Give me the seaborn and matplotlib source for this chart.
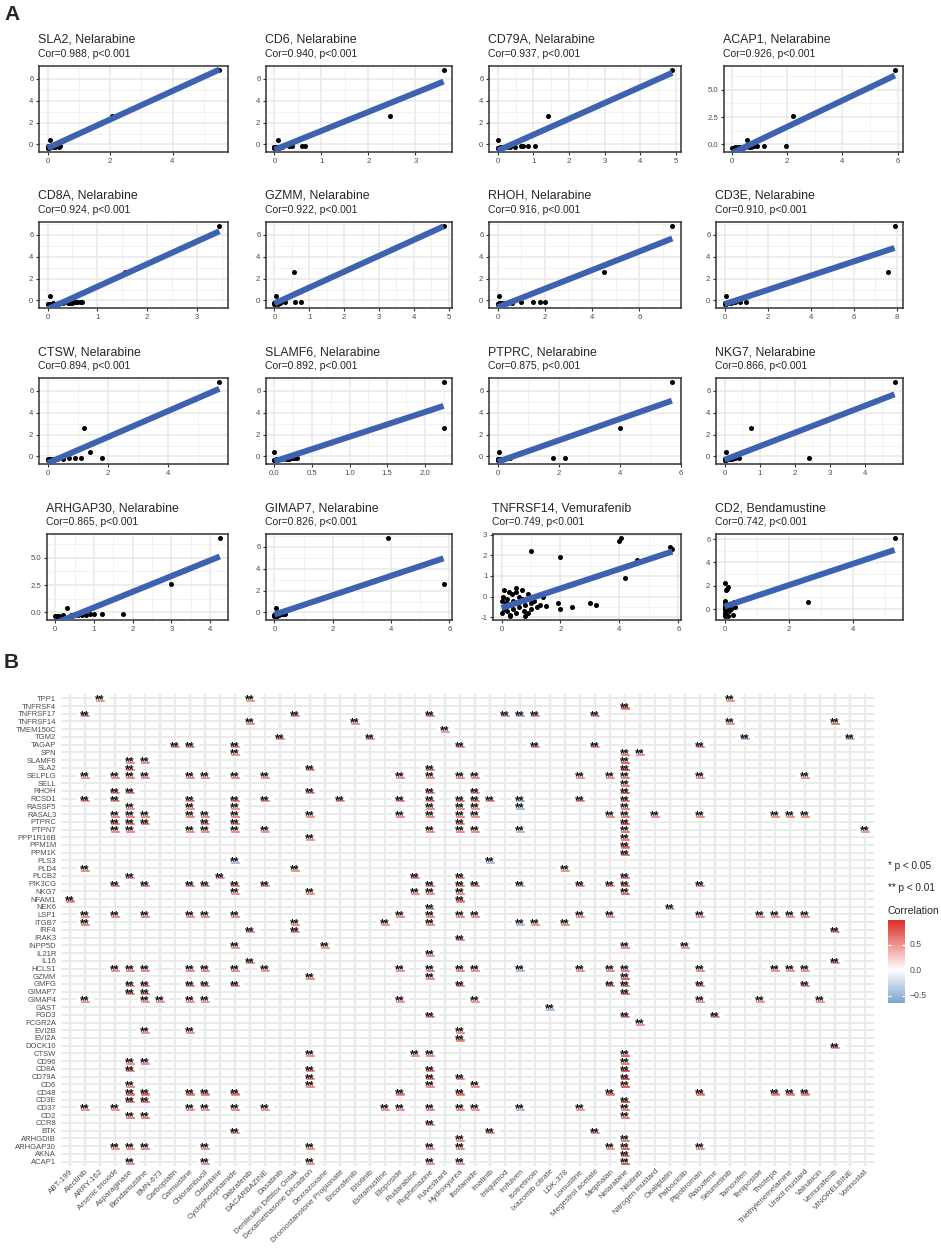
import numpy as np
import pandas as pd
import matplotlib
matplotlib.use("Agg")
import matplotlib.pyplot as plt
from matplotlib.colors import LinearSegmentedColormap, Normalize
from matplotlib.ticker import AutoMinorLocator
import seaborn as sns

# ======================= DATA: panel A =======================
sc_gene = ["SLA2", "CD6", "CD79A", "ACAP1", "CD8A", "GZMM", "RHOH", "CD3E",
           "CTSW", "SLAMF6", "PTPRC", "NKG7", "ARHGAP30", "GIMAP7", "TNFRSF14", "CD2"]
sc_drug = ["Nelarabine"] * 14 + ["Vemurafenib", "Bendamustine"]
sc_cor = [0.988, 0.940, 0.937, 0.926, 0.924, 0.922, 0.916, 0.910,
          0.894, 0.892, 0.875, 0.866, 0.865, 0.826, 0.749, 0.742]
sc_p = ["p<0.001"] * 16

# Nelarabine response shared by the 14 Nelarabine panels
nel_y = [6.8, 2.6, 0.4, -0.15, -0.15, -0.18, -0.18, -0.2, -0.2, -0.2, -0.22, -0.25, -0.25, -0.28, -0.3, -0.33]
x_SLA2 = [5.5, 2.05, 0.07, 0.4, 0.3, 0.0, 0.05, 0.1, 0.2, 0.35, 0.0, 0.25, 0.0, 0.05, 0.0, 0.02]
x_CD6 = [3.6, 2.45, 0.07, 0.65, 0.58, 0.38, 0.3, 0.1, 0.05, 0.0, 0.0, 0.15, 0.05, 0.0, 0.1, 0.02]
x_CD79A = [4.9, 1.4, 0.0, 1.05, 0.86, 0.72, 0.65, 0.49, 0.35, 0.25, 0.15, 0.1, 0.05, 0.0, 0.0, 0.02]
x_ACAP1 = [5.9, 2.2, 0.53, 1.95, 1.14, 0.9, 0.8, 0.7, 0.6, 0.45, 0.3, 0.2, 0.1, 0.05, 0.4, 0.0]
x_CD8A = [3.45, 1.55, 0.05, 0.7, 0.65, 0.6, 0.55, 0.5, 0.45, 0.4, 0.3, 0.2, 0.1, 0.0, 0.05, 0.0]
x_GZMM = [4.85, 0.55, 0.05, 0.75, 0.6, 0.3, 0.2, 0.1, 0.05, 0.0, 0.0, 0.15, 0.05, 0.0, 0.1, 0.02]
x_RHOH = [7.4, 4.5, 0.05, 2.0, 1.8, 1.5, 1.0, 0.6, 0.4, 0.3, 0.2, 0.1, 0.05, 0.0, 0.0, 0.02]
x_CD3E = [7.9, 7.6, 0.05, 1.0, 0.7, 0.5, 0.4, 0.3, 0.2, 0.15, 0.1, 0.05, 0.0, 0.0, 0.05, 0.02]
x_CTSW = [5.7, 1.2, 1.4, 1.8, 1.1, 0.9, 0.7, 0.5, 0.3, 0.2, 0.1, 0.05, 0.0, 0.0, 0.05, 0.02]
x_SLAMF6 = [2.25, 2.25, 0.0, 0.3, 0.28, 0.25, 0.22, 0.2, 0.18, 0.15, 0.1, 0.05, 0.02, 0.0, 0.0, 0.01]
x_PTPRC = [5.7, 4.0, 0.05, 2.2, 1.8, 0.4, 0.3, 0.2, 0.15, 0.1, 0.05, 0.0, 0.0, 0.05, 0.0, 0.02]
x_NKG7 = [4.85, 0.75, 0.05, 2.4, 0.4, 0.3, 0.25, 0.2, 0.15, 0.1, 0.05, 0.0, 0.0, 0.05, 0.0, 0.02]
x_ARHGAP30 = [4.25, 3.0, 0.3, 1.75, 1.2, 1.0, 0.9, 0.8, 0.7, 0.6, 0.5, 0.4, 0.2, 0.1, 0.0, 0.05]
x_GIMAP7 = [3.9, 5.8, 0.05, 0.35, 0.3, 0.25, 0.2, 0.15, 0.1, 0.05, 0.0, 0.0, 0.05, 0.0, 0.02, 0.1]

x_TNFRSF14 = [0.0, 0.05, 0.1, 0.1, 0.15, 0.2, 0.2, 0.25, 0.3, 0.3, 0.35, 0.4, 0.4, 0.5, 0.5, 0.55,
              0.6, 0.6, 0.7, 0.75, 0.8, 0.8, 0.9, 1.0, 1.0, 1.1, 1.2, 1.3, 1.4, 1.5, 1.9, 2.0, 2.4,
              3.0, 3.2, 1.0, 2.0, 4.0, 4.05, 4.2, 4.6, 5.7, 5.8, 0.0, 0.1, 0.3, 0.5, 0.7, 0.9]
y_Vemurafenib = [-0.2, 0.0, -0.5, 0.3, -0.3, -0.1, -0.7, 0.2, -0.4, -0.9, 0.1, -0.6, -0.2, 0.4, -0.8, -0.3,
                 0.0, -0.5, -0.1, -0.7, -0.4, -0.95, 0.1, -0.3, -0.6, -0.2, -0.5, -0.4, 0.0, -0.45, -0.3, -0.6, -0.5,
                 -0.3, -0.4, 2.2, 1.9, 2.7, 2.85, 0.9, 1.8, 2.4, 2.3, -0.8, -0.6, -0.95, 0.2, 0.3, -0.8]
x_CD2 = [5.3, 2.6, 0.0, 0.1, 0.05, 0.08, 0.3, 0.32, 0.25, 0.0, 0.0, 0.0, 0.0, 0.0, 0.0, 0.05,
         0.1, 0.15, 0.2, 0.02, 0.05, 0.0, 0.1]
y_Bendamustine = [6.1, 0.6, 2.2, 1.9, 1.6, 1.75, 0.6, 0.2, -0.5, 0.7, 0.5, 0.3, 0.1, -0.1, -0.3, -0.5,
                  -0.6, -0.2, 0.0, -0.6, 0.4, -0.45, 0.2]

sc_x = [x_SLA2, x_CD6, x_CD79A, x_ACAP1, x_CD8A, x_GZMM, x_RHOH, x_CD3E, x_CTSW, x_SLAMF6,
        x_PTPRC, x_NKG7, x_ARHGAP30, x_GIMAP7, x_TNFRSF14, x_CD2]
sc_y = [nel_y] * 14 + [y_Vemurafenib, y_Bendamustine]

sc_xticks = [[0, 2, 4], [0, 1, 2, 3], [0, 1, 2, 3, 4, 5], [0, 2, 4, 6],
             [0, 1, 2, 3], [0, 1, 2, 3, 4, 5], [0, 2, 4, 6], [0, 2, 4, 6, 8],
             [0, 2, 4], [0.0, 0.5, 1.0, 1.5, 2.0], [0, 2, 4, 6], [0, 1, 2, 3, 4],
             [0, 1, 2, 3, 4], [0, 2, 4, 6], [0, 2, 4, 6], [0, 2, 4]]
sc_yticks = [[0, 2, 4, 6]] * 3 + [[0.0, 2.5, 5.0]] + [[0, 2, 4, 6]] * 8 + \
            [[0.0, 2.5, 5.0], [0, 2, 4, 6], [-1, 0, 1, 2, 3], [0, 2, 4, 6]]
sc_xfmt = ["{:.0f}"] * 9 + ["{:.1f}"] + ["{:.0f}"] * 6
sc_yfmt = ["{:.0f}"] * 3 + ["{:.1f}"] + ["{:.0f}"] * 8 + ["{:.1f}"] + ["{:.0f}"] * 3

# ======================= DATA: panel B =======================
drugs = ["ABT-199", "Alectinib", "ARRY-162", "Arsenic trioxide", "Asparaginase", "Bendamustine",
         "BMN-673", "Carboplatin", "Carmustine", "Chlorambucil", "Cladribine", "Cyclophosphamide",
         "Dabrafenib", "DACARBAZINE", "Dasatinib", "Denileukin Diftitox Ontak",
         "Dexamethasone Decadron", "Dexrazoxane", "Dromostanolone Propionate", "Encorafenib",
         "Erlotinib", "Estramustine", "Etoposide", "Fludarabine", "Fluphenazine", "Fulvestrant",
         "Hydroxyurea", "Ifosfamide", "Imatinib", "Imiquimod", "Irofulven", "Isotretinoin",
         "Ixazomib citrate", "LDK-378", "Lomustine", "Megestrol acetate", "Melphalan", "Nelarabine",
         "Nilotinib", "Nitrogen mustard", "Oxaliplatin", "Palbociclib", "Pipobroman", "Raloxifene",
         "Selumetinib", "Tamoxifen", "Teniposide", "Thiotepa", "Triethylenemelamine",
         "Uracil mustard", "Valrubicin", "Vemurafenib", "VINORELBINE", "Vorinostat"]

genes = ["TPP1", "TNFRSF4", "TNFRSF17", "TNFRSF14", "TMEM150C", "TGM2", "TAGAP", "SPN", "SLAMF6",
         "SLA2", "SELPLG", "SELL", "RHOH", "RCSD1", "RASSF5", "RASAL3", "PTPRC", "PTPN7", "PPP1R16B",
         "PPM1M", "PPM1K", "PLS3", "PLD4", "PLCB2", "PIK3CG", "NKG7", "NFAM1", "NEK6", "LSP1", "ITGB7",
         "IRF4", "IRAK3", "INPP5D", "IL21R", "IL16", "HCLS1", "GZMM", "GMFG", "GIMAP7", "GIMAP4",
         "GAST", "FGD3", "FCGR2A", "EVI2B", "EVI2A", "DOCK10", "CTSW", "CD96", "CD8A", "CD79A", "CD6",
         "CD48", "CD3E", "CD37", "CD2", "CCR8", "BTK", "ARHGDIB", "ARHGAP30", "AKNA", "ACAP1"]

# significant cells (all p < 0.01 -> "**"): drug, genes hit, correlation of each hit
hit_drug = []
hit_genes = []
hit_cor = []
def _add(d, g, c):
    hit_drug.append(d); hit_genes.append(g.split()); hit_cor.append(c)

_add("ABT-199", "NFAM1", [0.58])
_add("Alectinib", "TNFRSF17 SELPLG RCSD1 PLD4 LSP1 ITGB7 GIMAP4 CD37", [0.62, 0.64, 0.63, 0.66, 0.62, 0.70, 0.61, 0.63])
_add("ARRY-162", "TPP1", [0.60])
_add("Arsenic trioxide", "SELPLG RHOH RCSD1 RASAL3 PTPRC PTPN7 PIK3CG LSP1 HCLS1 CD37 ARHGAP30",
     [0.66, 0.63, 0.62, 0.67, 0.65, 0.66, 0.64, 0.65, 0.66, 0.62, 0.64])
_add("Asparaginase", "SLAMF6 SLA2 SELPLG RHOH RASSF5 RASAL3 PTPRC PTPN7 PLCB2 HCLS1 GMFG GIMAP7 CD96 CD8A CD6 CD48 CD3E CD2 ARHGAP30 ACAP1",
     [0.68, 0.66, 0.67, 0.65, 0.64, 0.69, 0.68, 0.67, 0.62, 0.68, 0.66, 0.65, 0.64, 0.66, 0.65, 0.69, 0.68, 0.70, 0.66, 0.65])
_add("Bendamustine", "SLAMF6 SELPLG RASAL3 PTPRC PIK3CG LSP1 HCLS1 GMFG GIMAP7 GIMAP4 EVI2B CD96 CD48 CD3E CD2 ARHGAP30",
     [0.66, 0.68, 0.70, 0.69, 0.66, 0.67, 0.70, 0.68, 0.67, 0.64, 0.63, 0.65, 0.70, 0.71, 0.742, 0.67])
_add("BMN-673", "GIMAP4", [0.62])
_add("Carboplatin", "TAGAP", [0.60])
_add("Carmustine", "TAGAP SELPLG RCSD1 RASSF5 RASAL3 PTPN7 PIK3CG LSP1 HCLS1 GMFG GIMAP4 EVI2B CD48 CD37",
     [0.61, 0.67, 0.64, 0.63, 0.68, 0.66, 0.66, 0.67, 0.68, 0.66, 0.63, 0.62, 0.67, 0.65])
_add("Chlorambucil", "SELPLG RASAL3 PTPRC PTPN7 PIK3CG LSP1 HCLS1 GMFG GIMAP4 CD48 CD37 ARHGAP30 ACAP1",
     [0.66, 0.68, 0.67, 0.66, 0.65, 0.66, 0.68, 0.66, 0.63, 0.67, 0.64, 0.65, 0.64])
_add("Cladribine", "PLCB2", [0.61])
_add("Cyclophosphamide", "TAGAP SPN SELPLG RCSD1 RASSF5 RASAL3 PTPRC PTPN7 PLS3 PIK3CG NKG7 LSP1 INPP5D HCLS1 GMFG CD48 CD37 BTK",
     [0.62, 0.63, 0.67, 0.65, 0.64, 0.68, 0.67, 0.66, -0.55, 0.66, 0.64, 0.66, 0.62, 0.68, 0.66, 0.67, 0.65, 0.61])
_add("Dabrafenib", "TPP1 TNFRSF14 IRF4 IL16", [0.60, 0.64, 0.61, 0.62])
_add("DACARBAZINE", "SELPLG RCSD1 PTPN7 PIK3CG HCLS1 CD37", [0.64, 0.62, 0.63, 0.63, 0.64, 0.62])
_add("Dasatinib", "TGM2", [0.60])
_add("Denileukin Diftitox Ontak", "TNFRSF17 PLD4 ITGB7 IRF4", [0.62, 0.61, 0.64, 0.63])
_add("Dexamethasone Decadron", "SLA2 RHOH RASAL3 PPP1R16B NKG7 GZMM CTSW CD8A CD79A CD6 ARHGAP30 ACAP1",
     [0.64, 0.63, 0.62, 0.62, 0.64, 0.65, 0.64, 0.66, 0.66, 0.65, 0.63, 0.64])
_add("Dexrazoxane", "INPP5D", [0.60])
_add("Dromostanolone Propionate", "RCSD1", [0.60])
_add("Encorafenib", "TNFRSF14", [0.61])
_add("Erlotinib", "TGM2", [0.61])
_add("Estramustine", "ITGB7 CD37", [0.61, 0.62])
_add("Etoposide", "SELPLG RCSD1 RASAL3 LSP1 HCLS1 GIMAP4 CD48 CD37", [0.63, 0.62, 0.64, 0.63, 0.64, 0.61, 0.63, 0.62])
_add("Fludarabine", "PLCB2 NKG7 CTSW", [0.61, 0.62, 0.62])
_add("Fluphenazine", "TNFRSF17 SLA2 SELPLG RHOH RCSD1 RASSF5 RASAL3 PTPN7 PIK3CG NKG7 NEK6 LSP1 ITGB7 IL21R HCLS1 GZMM FGD3 CTSW CD8A CD79A CD6 CD37 CCR8 ARHGAP30 ACAP1",
     [0.63, 0.66, 0.68, 0.66, 0.67, 0.66, 0.69, 0.67, 0.67, 0.66, -0.55, 0.67, 0.64, 0.62, 0.69, 0.66, 0.63, 0.66, 0.67, 0.67, 0.66, 0.70, 0.62, 0.66, 0.66])
_add("Fulvestrant", "TMEM150C", [0.60])
_add("Hydroxyurea", "TAGAP SELPLG RCSD1 RASSF5 RASAL3 PTPRC PTPN7 PLCB2 PIK3CG NKG7 NFAM1 LSP1 IRAK3 HCLS1 GMFG EVI2B EVI2A CD79A CD48 CD37 ARHGDIB ARHGAP30 ACAP1",
     [0.62, 0.67, 0.66, 0.66, 0.68, 0.67, 0.67, 0.65, 0.66, 0.65, 0.61, 0.66, 0.62, 0.68, 0.65, 0.64, 0.63, 0.64, 0.66, 0.66, 0.63, 0.65, 0.64])
_add("Ifosfamide", "SELPLG RHOH RCSD1 RASSF5 RASAL3 PTPN7 PIK3CG LSP1 HCLS1 GIMAP4 CD6 CD37",
     [0.66, 0.64, 0.65, 0.64, 0.67, 0.65, 0.65, 0.65, 0.66, 0.62, 0.63, 0.64])
_add("Imatinib", "RCSD1 PLS3 BTK", [0.61, -0.52, 0.62])
_add("Imiquimod", "TNFRSF17", [0.60])
_add("Irofulven", "TNFRSF17 RCSD1 RASSF5 PTPN7 PIK3CG ITGB7 HCLS1 CD37",
     [-0.64, -0.56, -0.55, -0.56, -0.55, -0.54, -0.57, -0.55])
_add("Isotretinoin", "TNFRSF17 TAGAP ITGB7", [0.62, 0.61, 0.62])
_add("Ixazomib citrate", "GAST", [-0.56])
_add("LDK-378", "PLD4 ITGB7", [0.61, 0.62])
_add("Lomustine", "SELPLG RCSD1 PIK3CG LSP1 HCLS1 CD37", [0.63, 0.62, 0.63, 0.63, 0.64, 0.62])
_add("Megestrol acetate", "TNFRSF17 TAGAP BTK", [0.61, 0.60, 0.61])
_add("Melphalan", "SELPLG RASAL3 PIK3CG LSP1 HCLS1 GMFG CD48 ARHGAP30", [0.64, 0.66, 0.64, 0.64, 0.66, 0.64, 0.65, 0.63])
_add("Nelarabine", "TNFRSF4 SPN SLAMF6 SLA2 SELPLG SELL RHOH RCSD1 RASSF5 RASAL3 PTPRC PTPN7 PPP1R16B PPM1M PPM1K PLCB2 PIK3CG NKG7 INPP5D HCLS1 GZMM GMFG GIMAP7 FGD3 CTSW CD96 CD8A CD79A CD6 CD3E CD37 CD2 ARHGDIB ARHGAP30 AKNA ACAP1",
     [0.70, 0.73, 0.892, 0.988, 0.74, 0.73, 0.916, 0.73, 0.72, 0.74, 0.875, 0.73, 0.72, 0.71, 0.72, 0.71, 0.73, 0.866,
      0.70, 0.74, 0.922, 0.73, 0.826, 0.70, 0.894, 0.74, 0.924, 0.937, 0.940, 0.910, 0.72, 0.74, 0.71, 0.865, 0.73, 0.926])
_add("Nilotinib", "SPN FCGR2A", [0.62, 0.61])
_add("Nitrogen mustard", "RASAL3", [0.61])
_add("Oxaliplatin", "NEK6", [-0.54])
_add("Palbociclib", "INPP5D", [0.61])
_add("Pipobroman", "TAGAP SELPLG RASAL3 PIK3CG LSP1 HCLS1 GMFG GIMAP4 CD48 ARHGAP30",
     [0.61, 0.64, 0.65, 0.64, 0.64, 0.65, 0.63, 0.62, 0.64, 0.63])
_add("Raloxifene", "FGD3", [0.61])
_add("Selumetinib", "TPP1 TNFRSF14", [0.61, 0.62])
_add("Tamoxifen", "TGM2", [-0.53])
_add("Teniposide", "LSP1 GIMAP4", [0.62, 0.61])
_add("Thiotepa", "RASAL3 LSP1 HCLS1 CD48", [0.63, 0.63, 0.64, 0.63])
_add("Triethylenemelamine", "RASAL3 LSP1 HCLS1 CD48", [0.63, 0.63, 0.64, 0.63])
_add("Uracil mustard", "SELPLG RASAL3 LSP1 HCLS1 GMFG CD48", [0.62, 0.64, 0.63, 0.64, 0.62, 0.63])
_add("Valrubicin", "GIMAP4", [0.61])
_add("Vemurafenib", "TNFRSF14 IRF4 IL16 DOCK10", [0.749, 0.62, 0.62, 0.61])
_add("VINORELBINE", "TGM2", [-0.53])
_add("Vorinostat", "PTPN7", [0.61])

# ======================= BUILD =======================
rows = []
for d, gl, cl in zip(hit_drug, hit_genes, hit_cor):
    assert len(gl) == len(cl), d
    for g, c in zip(gl, cl):
        assert g in genes, g
        rows.append((d, g, c))
cells = pd.DataFrame(rows, columns=["drug", "gene", "cor"])
cells["xi"] = cells["drug"].map({d: i for i, d in enumerate(drugs)})
cells["yi"] = cells["gene"].map({g: i for i, g in enumerate(genes)})

W, H = 941, 1253
sns.set_theme(style="white")
plt.rcParams['font.family'] = ['Liberation Sans', 'DejaVu Sans']
fig = plt.figure(figsize=(W / 100, H / 100), dpi=100)
fig.patch.set_facecolor("white")


def px_axes(l, t, r, b):
    return fig.add_axes([l / W, 1 - b / H, (r - l) / W, (b - t) / H])


def ftext(x, y, s, **kw):
    return fig.text(x / W, 1 - y / H, s, **kw)


ftext(4, 14, "A", fontsize=15, fontweight="bold", va="center", ha="left")

# ---------------- panel A ----------------
col_right = [228, 452, 681, 903]
col_left = [39, 266, 489, 716]
row_top = 66
row_step = 156
ax_h = 86
line_col = "#3D62B0"
for i in range(16):
    r, c = divmod(i, 4)
    extra = 0
    if sc_yfmt[i] == "{:.1f}":
        extra = 8
    elif min(sc_yticks[i]) < 0:
        extra = 4
    l = col_left[c] + extra
    rgt = col_right[c]
    t = row_top + r * row_step
    b = t + ax_h
    ax = px_axes(l, t, rgt, b)
    xs = np.array(sc_x[i], dtype=float)
    ys = np.array(sc_y[i], dtype=float)
    sns.regplot(x=xs, y=ys, ax=ax, ci=None, truncate=True,
                scatter_kws=dict(s=13, color="black", linewidths=0, zorder=3, alpha=1),
                line_kws=dict(color=line_col, lw=4.3, zorder=4, solid_capstyle="butt"))
    xr = xs.max() - xs.min()
    yr = ys.max() - ys.min()
    ax.set_xlim(xs.min() - 0.05 * xr, xs.max() + 0.05 * xr)
    ax.set_ylim(ys.min() - 0.05 * yr, ys.max() + 0.05 * yr)
    ax.set_xticks(sc_xticks[i])
    ax.set_xticklabels([sc_xfmt[i].format(v) for v in sc_xticks[i]])
    ax.set_yticks(sc_yticks[i])
    ax.set_yticklabels([sc_yfmt[i].format(v) for v in sc_yticks[i]])
    ax.xaxis.set_minor_locator(AutoMinorLocator(2))
    ax.yaxis.set_minor_locator(AutoMinorLocator(2))
    ax.grid(True, which="major", color="#E8E8E8", lw=1.1, zorder=0)
    ax.grid(True, which="minor", color="#F0F0F0", lw=0.6, zorder=0)
    ax.set_axisbelow(True)
    ax.set_xlabel("")
    ax.set_ylabel("")
    ax.tick_params(which="major", length=2.5, width=0.8, color="#333333", labelsize=5.6,
                   labelcolor="#4D4D4D", pad=1.5, direction="out", bottom=True, left=True)
    ax.tick_params(which="minor", length=0)
    for s in ax.spines.values():
        s.set_color("#333333")
        s.set_linewidth(1.1)
        s.set_visible(True)
    ftext(l - 1, t - 23, f"{sc_gene[i]}, {sc_drug[i]}", fontsize=8.9, ha="left", va="baseline")
    ftext(l - 1, t - 9, f"Cor={sc_cor[i]:.3f}, {sc_p[i]}", fontsize=7.5, ha="left", va="baseline")

# ---------------- panel B ----------------
ftext(4, 663, "B", fontsize=15, fontweight="bold", va="center", ha="left")

vmax = cells["cor"].max()
vmin = cells["cor"].min()
lim = max(abs(vmax), abs(vmin))
cmap = LinearSegmentedColormap.from_list("rdbu2", ["#3674B2", "#FFFFFF", "#DB2A20"])
norm = Normalize(-lim, lim)

nrow, ncol = len(genes), len(drugs)
row_px = 7.72
top_c = 698.3
left_c = 70
axh = px_axes(left_c - 0.6 * 15, top_c - 0.6 * row_px, left_c + (ncol - 1 + 0.6) * 15,
              top_c + (nrow - 1 + 0.6) * row_px)
axh.set_xlim(-0.6, ncol - 0.4)
axh.set_ylim(nrow - 0.4, -0.6)
for j in range(ncol):
    axh.axvline(j, color="#EBEBEB", lw=1.7, zorder=0)
for k in range(nrow):
    axh.axhline(k, color="#EBEBEB", lw=1.4, zorder=0)

axh.bar(cells["xi"], 0.95, bottom=cells["yi"] - 0.5, width=1.05, color="white", zorder=1)
axh.bar(cells["xi"], 0.40, bottom=cells["yi"] + 0.06, width=0.70,
        color=[cmap(norm(v)) for v in cells["cor"]], zorder=2)
for xi, yi in zip(cells["xi"], cells["yi"]):
    axh.text(xi, yi + 0.66, "**", ha="center", va="baseline", fontsize=8.8,
             fontweight="bold", color="#111111", zorder=3)

axh.set_xticks(range(ncol))
axh.set_xticklabels(drugs, rotation=45, ha="right", rotation_mode="anchor")
axh.set_yticks(range(nrow))
axh.set_yticklabels(genes)
axh.tick_params(axis="x", length=0, pad=1.5, labelsize=5.8, labelcolor="#4D4D4D")
axh.tick_params(axis="y", length=0, pad=3.5, labelsize=5.5, labelcolor="#4D4D4D")
for s in axh.spines.values():
    s.set_visible(False)
axh.set_facecolor("white")

# legend
ftext(888, 866, "* p < 0.05", fontsize=7.2, ha="left", va="center")
ftext(888, 888, "** p < 0.01", fontsize=7.2, ha="left", va="center")
ftext(888, 911, "Correlation", fontsize=7.6, ha="left", va="center")
cb_top, cb_bot = 920, 1003
cax = px_axes(888, cb_top, 905, cb_bot)
grad = np.linspace(vmax, vmin, 300).reshape(-1, 1)
cax.imshow(grad, cmap=cmap, norm=norm, aspect="auto", extent=[0, 1, vmin, vmax])
cax.set_xlim(0, 1)
cax.set_ylim(vmin, vmax)
for v in [0.5, 0.0, -0.5]:
    cax.hlines(v, 0, 0.2, color="white", lw=0.9)
    cax.hlines(v, 0.8, 1, color="white", lw=0.9)
    ypx = cb_bot - (v - vmin) / (vmax - vmin) * (cb_bot - cb_top)
    ftext(910, ypx, f"{v:.1f}".replace("-", "\u2212"), fontsize=6.2, color="#4D4D4D", ha="left", va="center")
cax.set_xticks([])
cax.set_yticks([])
for s in cax.spines.values():
    s.set_visible(False)

fig.savefig("out.png", dpi=100, facecolor="white")
